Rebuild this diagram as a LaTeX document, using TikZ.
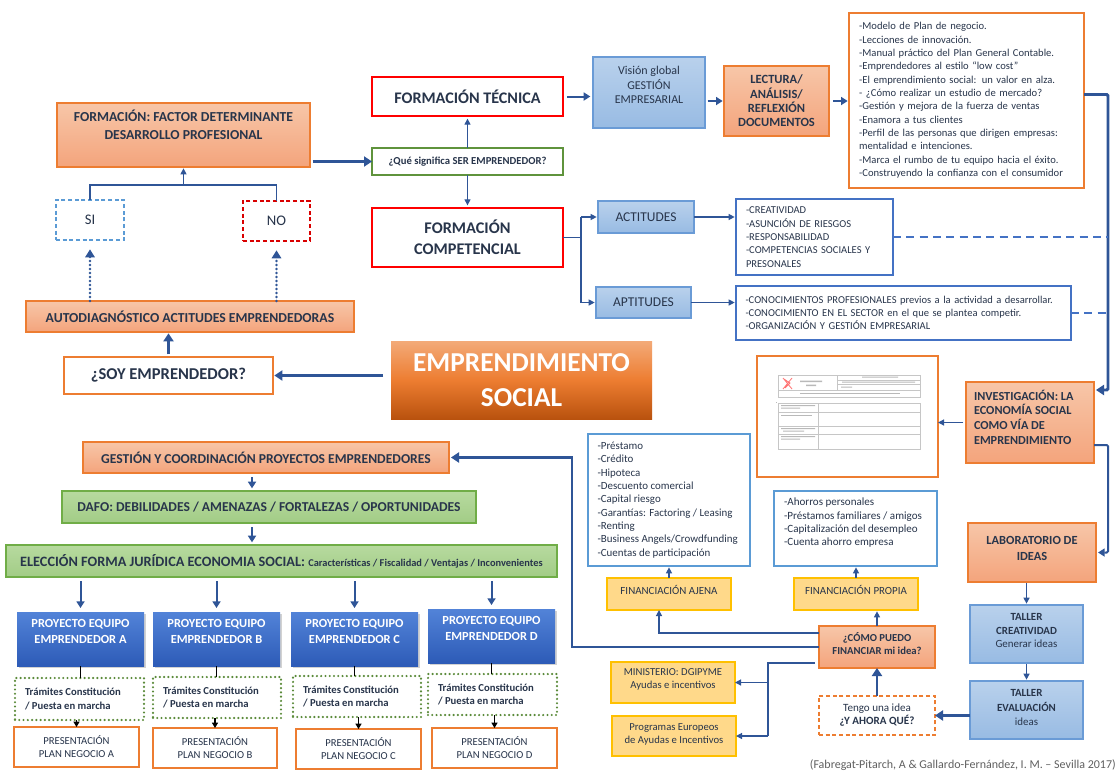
\documentclass[tikz,border=0pt]{standalone}
\usepackage{fontspec}
\setmainfont{Carlito}
\usetikzlibrary{arrows.meta,calc,shadows}
\definecolor{txt}{HTML}{28354B}
\definecolor{arr}{HTML}{2F5597}
\definecolor{orgB}{HTML}{ED7D31}
\definecolor{salT}{HTML}{F7C6A8}
\definecolor{salB}{HTML}{F4A47C}
\definecolor{emT}{HTML}{F3AA78}
\definecolor{emB}{HTML}{B9520E}
\definecolor{bluB}{HTML}{6A9BD6}
\definecolor{bluT}{HTML}{B9D1EC}
\definecolor{bluM}{HTML}{98BBE3}
\definecolor{grnT}{HTML}{B7DA9F}
\definecolor{grnF}{HTML}{A2CC86}
\definecolor{grnB}{HTML}{70AD47}
\definecolor{yelF}{HTML}{FFD98A}
\definecolor{yelB}{HTML}{FFC000}
\definecolor{prjT}{HTML}{5283D8}
\definecolor{prjB}{HTML}{2D5BB7}
\definecolor{lineB}{HTML}{4472C4}
\definecolor{lineLB}{HTML}{5B9BD5}
\newcommand\bx[7]{\node[#1, minimum width={(#4-#2)*0.75pt}, minimum height={(#5-#3)*0.75pt}] (#6) at ({(#2+#4)/2},{(#3+#5)/2}) {#7};}
\newcommand\tx[5]{\node[#1] (#2) at (#3,#4) {#5};}
\begin{document}
\begin{tikzpicture}[x=0.75pt,y=-0.75pt,
  base/.style={inner sep=0pt, outer sep=0pt, text=txt, align=center},
  sal/.style={base, draw=orgB, line width=0.9pt, top color=salT, bottom color=salB},
  redbox/.style={base, draw=red, line width=2.2pt, fill=white},
  grnq/.style={base, draw=grnB!85!black, line width=1.8pt, fill=white},
  bluebox/.style={base, draw=bluB, line width=0.9pt, top color=bluT, bottom color=bluM},
  whiteO/.style={base, draw=orgB, line width=0.9pt, fill=white},
  whiteB/.style={base, draw=lineB, line width=0.9pt, fill=white},
  whiteLB/.style={base, draw=lineLB, line width=0.9pt, fill=white},
  yel/.style={base, draw=yelB, line width=0.9pt, fill=yelF},
  grn/.style={base, draw=grnB, line width=0.9pt, top color=grnT, bottom color=grnF},
  prj/.style={base, text=white, top color=prjT, bottom color=prjB, drop shadow={shadow xshift=1.5pt, shadow yshift=-1.5pt, opacity=0.35}},
  dotg/.style={base, draw=grnB!80!black, line width=1.8pt, dash pattern=on 0pt off 3.2pt, line cap=round},
  dashBx/.style={base, draw=lineLB, line width=0.8pt, dash pattern=on 3pt off 2pt},
  dashRx/.style={base, draw=red!85!black, line width=0.8pt, dash pattern=on 3pt off 2pt},
  dashOx/.style={base, draw=orgB, line width=0.8pt, dash pattern=on 3pt off 2pt},
  arT/.style={draw=arr, line width=2.2pt, -{Triangle[length=6pt,width=7.5pt]}},
  arM/.style={draw=arr, line width=1.5pt, -{Triangle[length=5pt,width=6pt]}},
  arS/.style={draw=arr, line width=0.9pt, -{Triangle[length=4.5pt,width=4.5pt]}},
  arK/.style={draw=black, line width=0.8pt, -{Triangle[length=4pt,width=4.5pt]}},
  ln/.style={draw=arr, line width=0.9pt},
  dotarr/.style={draw=arr, line width=2pt, dash pattern=on 0pt off 3pt, line cap=round, -{Triangle[length=6pt,width=7pt]}},
  dashln/.style={draw=lineB, line width=1.6pt, dash pattern=on 6pt off 4pt}
]
\useasboundingbox (0,0) rectangle (1119,771);
\fill[white] (0,0) rectangle (1119,771);

% ---------- left top ----------
\bx{sal}{57}{103}{310}{167}{factor}{}
\tx{base,font=\bfseries\fontsize{10.3}{13.5}\selectfont}{factorT}{183.5}{125}{FORMACIÓN: FACTOR DETERMINANTE\\DESARROLLO PROFESIONAL}
\bx{dashBx,font=\fontsize{11}{13}\selectfont}{56}{200}{124}{240}{si}{SI}
\bx{dashRx,font=\fontsize{11}{13}\selectfont}{243}{201}{310}{241}{no}{NO}
\bx{sal,font=\bfseries\fontsize{10.3}{12}\selectfont}{26}{301}{354}{332}{auto}{AUTODIAGNÓSTICO ACTITUDES EMPRENDEDORAS}
\bx{whiteO,font=\bfseries\fontsize{12.4}{14}\selectfont}{64}{357}{273}{394}{soy}{¿SOY EMPRENDEDOR?}
\bx{base,text=white,top color=emT,bottom color=emB,middle color=orgB,font=\bfseries\fontsize{20.5}{26.5}\selectfont}{391}{341}{652}{419}{empr}{EMPRENDIMIENTO\\SOCIAL}

% ---------- formation column ----------
\bx{redbox,font=\bfseries\fontsize{12.1}{14}\selectfont}{372}{77}{563}{116}{tec}{FORMACIÓN TÉCNICA}
\bx{grnq,font=\bfseries\fontsize{8}{9}\selectfont}{372}{148}{563}{175}{que}{¿Qué significa SER EMPRENDEDOR?}
\bx{redbox,font=\bfseries\fontsize{12.2}{15.8}\selectfont}{372}{208}{563}{267}{comp}{FORMACIÓN\\COMPETENCIAL}

% ---------- top right ----------
\bx{bluebox}{593}{57}{705}{128}{vis}{}
\tx{base,font=\fontsize{9}{10.9}\selectfont}{visT}{649}{85}{Visión global\\GESTIÓN\\EMPRESARIAL}
\bx{sal,font=\bfseries\fontsize{9.4}{10.75}\selectfont}{724}{66}{829}{136}{lec}{LECTURA/\\ANÁLISIS/\\REFLEXIÓN\\DOCUMENTOS}
\bx{whiteO,align=left,text width=161pt,font=\fontsize{7.95}{10}\selectfont}{849}{13}{1084}{188}{lst}{-Modelo de Plan de negocio.\\-Lecciones de innovación.\\-Manual práctico del Plan General Contable.\\-Emprendedores al estilo “low cost”\\-El emprendimiento social: un valor en alza.\\- ¿Cómo realizar un estudio de mercado?\\-Gestión y mejora de la fuerza de ventas\\-Enamora a tus clientes\\-Perfil de las personas que dirigen empresas:\\mentalidad e intenciones.\\-Marca el rumbo de tu equipo hacia el éxito.\\-Construyendo la confianza con el consumidor}

\bx{bluebox,font=\fontsize{10.1}{11}\selectfont}{598}{201}{694}{233}{act}{ACTITUDES}
\bx{bluebox,font=\fontsize{10.1}{11}\selectfont}{596}{287}{691}{318}{apt}{APTITUDES}
\bx{whiteB,align=left,text width=102.75pt,font=\fontsize{7.9}{10}\selectfont}{736}{199}{893}{275}{actl}{-CREATIVIDAD\\-ASUNCIÓN DE RIESGOS\\-RESPONSABILIDAD\\-COMPETENCIAS SOCIALES Y\\PRESONALES}
\bx{whiteB,align=left,text width=237pt,font=\fontsize{7.9}{10}\selectfont}{736}{286}{1071}{340}{aptl}{-CONOCIMIENTOS PROFESIONALES previos a la actividad a desarrollar.\\-CONOCIMIENTO EN EL SECTOR en el que se plantea competir.\\-ORGANIZACIÓN Y GESTIÓN EMPRESARIAL}

% ---------- document thumbnail ----------
\bx{whiteO}{757}{356}{938}{477}{doc}{}
\begin{scope}[draw=gray!45, line width=0.35pt]
\draw (778,375) rectangle (920,397);
\draw (837,375) -- (837,390) (778,390) -- (920,390) (837,380) -- (920,380) (837,384) -- (920,384);
\draw (778,403) rectangle (920,449);
\draw (818,403) -- (818,449) (778,412) -- (920,412) (778,426) -- (920,426) (778,434) -- (920,434);
\end{scope}
\draw[red!55, line width=0.6pt] (783,378) -- (792,389) (792,378) -- (783,389) (784,379) -- (790,383) -- (785,388);
\begin{scope}[fill=gray!55]
\fill (800,380.5) rectangle (822,382) (806,384.5) rectangle (816,386);
\fill (862,376.5) rectangle (898,377.5) (842,381.5) rectangle (915,382.5) (841,386.5) rectangle (852,387.5);
\fill (800,393) rectangle (900,394);
\fill (781,405) rectangle (815,406) (781,407.5) rectangle (800,408.5);
\fill (781,415) rectangle (812,416);
\fill (781,428) rectangle (815,429) (783,430.5) rectangle (804,431.5);
\fill (781,436) rectangle (815,437) (781,438.5) rectangle (800,439.5);
\fill (775.5,401.5) rectangle (776.5,402.5);
\end{scope}

% ---------- right column ----------
\bx{sal}{966}{382}{1094}{463}{inv}{}
\node[base,anchor=west,align=left,font=\bfseries\fontsize{9.2}{11}\selectfont] (invT) at (974,417) {INVESTIGACIÓN: LA\\ECONOMÍA SOCIAL\\COMO VÍA DE\\EMPRENDIMIENTO};
\bx{sal}{968}{523}{1096}{582}{lab}{}
\tx{base,font=\bfseries\fontsize{9.3}{11.4}\selectfont}{labT}{1032}{548.5}{LABORATORIO DE\\IDEAS}
\bx{bluebox}{970}{605}{1083}{663}{cre}{}
\tx{base,font=\fontsize{8.2}{10.2}\selectfont}{creT}{1026.5}{630.5}{\textbf{TALLER}\\\textbf{CREATIVIDAD}\\Generar ideas}
\bx{bluebox}{970}{681}{1083}{739}{eva}{}
\tx{base,font=\fontsize{8.2}{10.8}\selectfont}{evaT}{1026.5}{707.5}{\textbf{TALLER}\\\textbf{EVALUACIÓN}\\ideas}
\bx{dashOx,font=\fontsize{8.3}{9.8}\selectfont}{819}{696}{935}{735}{ten}{Tengo una idea\\\textbf{¿Y AHORA QUÉ?}}
\bx{sal}{819}{626}{935}{668}{como}{}
\tx{base,font=\bfseries\fontsize{8}{10}\selectfont}{comoT}{877}{643.5}{¿CÓMO PUEDO\\FINANCIAR mi idea?}

% ---------- financing ----------
\bx{yel}{794}{578}{918}{610}{pro}{}
\tx{base,font=\fontsize{8.2}{9}\selectfont}{proT}{856}{590}{FINANCIACIÓN PROPIA}
\bx{yel}{607}{578}{731}{610}{aje}{}
\tx{base,font=\fontsize{8.2}{9}\selectfont}{ajeT}{669}{590}{FINANCIACIÓN AJENA}
\bx{whiteLB}{588}{434}{750}{566}{ajl}{}
\node[base,anchor=west,align=left,font=\fontsize{8.2}{10}\selectfont] (ajlT) at (597.5,500) {-Préstamo\\-Crédito\\-Hipoteca\\-Descuento comercial\\-Capital riesgo\\-Garantías: Factoring / Leasing\\-Renting\\-Business Angels/Crowdfunding\\-Cuentas de participación};
\bx{whiteLB}{774}{491}{937}{566}{prl}{}
\node[base,anchor=west,align=left,font=\fontsize{8.3}{10}\selectfont] (prlT) at (784,523) {-Ahorros personales\\-Préstamos familiares / amigos\\-Capitalización del desempleo\\-Cuenta ahorro empresa};
\bx{yel}{611}{662}{735}{703}{min}{}
\tx{base,font=\fontsize{8}{9.8}\selectfont}{minT}{673}{679.5}{MINISTERIO: DGIPYME\\Ayudas e incentivos}
\bx{yel}{612}{716}{736}{756}{prg}{}
\tx{base,font=\fontsize{8}{9.8}\selectfont}{prgT}{674}{734}{Programas Europeos\\de Ayudas e Incentivos}

% ---------- bottom left ----------
\bx{sal,font=\bfseries\fontsize{10.2}{12}\selectfont}{83}{442}{449}{473}{ges}{GESTIÓN Y COORDINACIÓN PROYECTOS EMPRENDEDORES}
\bx{grn,font=\bfseries\fontsize{10.2}{12}\selectfont}{62}{491}{476}{523}{daf}{DAFO: DEBILIDADES / AMENAZAS / FORTALEZAS / OPORTUNIDADES}
\bx{grn,font=\bfseries\fontsize{10.7}{12}\selectfont}{6}{545}{557}{577}{ele}{ELECCIÓN FORMA JURÍDICA ECONOMIA SOCIAL: {\fontsize{7.8}{8}\selectfont Características / Fiscalidad / Ventajas / Inconvenientes}}

\bx{prj}{17}{612}{144}{666}{pA}{}
\bx{prj}{153}{612}{280}{666}{pB}{}
\bx{prj}{291}{612}{418}{666}{pC}{}
\bx{prj}{428}{609}{555}{663}{pD}{}
\tx{base,text=white,font=\bfseries\fontsize{9.3}{12}\selectfont}{pAT}{80.5}{631}{PROYECTO EQUIPO\\EMPRENDEDOR A}
\tx{base,text=white,font=\bfseries\fontsize{9.3}{12}\selectfont}{pBT}{216.5}{631}{PROYECTO EQUIPO\\EMPRENDEDOR B}
\tx{base,text=white,font=\bfseries\fontsize{9.3}{12}\selectfont}{pCT}{354.5}{631}{PROYECTO EQUIPO\\EMPRENDEDOR C}
\tx{base,text=white,font=\bfseries\fontsize{9.3}{12}\selectfont}{pDT}{491.5}{628}{PROYECTO EQUIPO\\EMPRENDEDOR D}

\bx{dotg}{15}{678}{144}{720}{tA}{}
\bx{dotg}{153}{677}{281}{718}{tB}{}
\bx{dotg}{293}{676}{421}{717}{tC}{}
\bx{dotg}{428}{674}{557}{715}{tD}{}
\node[base,anchor=west,align=left,font=\bfseries\fontsize{8}{9.8}\selectfont] (tAT) at (25,699) {Trámites Constitución\\/ Puesta en marcha};
\node[base,anchor=west,align=left,font=\bfseries\fontsize{8}{9.8}\selectfont] (tBT) at (163,697.5) {Trámites Constitución\\/ Puesta en marcha};
\node[base,anchor=west,align=left,font=\bfseries\fontsize{8}{9.8}\selectfont] (tCT) at (303,696.5) {Trámites Constitución\\/ Puesta en marcha};
\node[base,anchor=west,align=left,font=\bfseries\fontsize{8}{9.8}\selectfont] (tDT) at (438,694.5) {Trámites Constitución\\/ Puesta en marcha};

\bx{whiteO,font=\fontsize{8}{9.8}\selectfont}{14}{727}{139}{767}{rA}{PRESENTACIÓN\\PLAN NEGOCIO A}
\bx{whiteO,font=\fontsize{8}{9.8}\selectfont}{153}{728}{277}{768}{rB}{PRESENTACIÓN\\PLAN NEGOCIO B}
\bx{whiteO,font=\fontsize{8}{9.8}\selectfont}{296}{729}{421}{769}{rC}{PRESENTACIÓN\\PLAN NEGOCIO C}
\bx{whiteO,font=\fontsize{8}{9.8}\selectfont}{432}{728}{557}{768}{rD}{PRESENTACIÓN\\PLAN NEGOCIO D}

\node[anchor=east,inner sep=0pt,text=gray!75!black,font=\fontsize{9}{10}\selectfont] (cred) at (1116,765) {(Fabregat-Pitarch, A \& Gallardo-Fernández, I. M. – Sevilla 2017)};

% ---------- connectors ----------
\draw[arT, shorten <=2pt] (factor.east |- que.west) -- (que.west);
\draw[arS, shorten >=2pt] (tec.south |- que.north) -- (tec.south);
\draw[arS, shorten >=2pt] (comp.north |- que.south) -- (comp.north);
\draw[arM, shorten <=3pt, shorten >=2pt] (tec.east) -- (tec.east -| vis.west);
\draw[arM, shorten <=2pt, shorten >=1pt] (vis.east |- lec.west) -- (lec.west);
\draw[arM, shorten <=3pt, shorten >=1pt] (lec.east) -- (lec.east -| lst.west);

\coordinate (vx) at (1108,0);
\coordinate (inv1) at ($(inv.north east)+(2,8)$);
\coordinate (ls1) at ($(lst.east)+(0,-6)$);
\draw[arT, rounded corners=1pt] (ls1) -- (ls1 -| vx) -- (vx |- inv1) -- (inv1);
\draw[dashln] (actl.east) -- (actl.east -| vx);
\draw[dashln] (aptl.east) -- (aptl.east -| vx);
\draw[arS, shorten <=2pt] (inv.west) -- (inv.west -| doc.east);
\coordinate (inv2) at ($(inv.south east)+(0,-18)$);
\draw[arM, rounded corners=1pt] (inv2) -- (inv2 -| vx) -- (vx |- lab.east) -- ($(lab.east)+(2,0)$);
\draw[arS, shorten <=1pt, shorten >=1pt] (cre.north |- lab.south) -- (cre.north);
\draw[arS, shorten <=1pt, shorten >=1pt] (cre.south) -- (eva.north);
\draw[arT] (eva.west |- ten.east) -- (ten.east);
\draw[arT] (ten.north) -- (ten.north |- como.south);
\draw[arS, shorten >=1pt] (como.north) -- (como.north |- pro.south);
\draw[arS, shorten >=1pt] (pro.north) -- (pro.north |- prl.south);
\coordinate (c1) at ($(como.north west)+(0,7)$);
\coordinate (ax) at ($(aje.south)+(-10,0)$);
\draw[arS] (c1) -| (ax);
\draw[arS, shorten >=1pt] (aje.north) -- (aje.north |- ajl.south);
\coordinate (vx2) at (572,0);
\draw[arT] (como.west) -| (vx2 |- ges.east) -- ($(ges.east)+(2,0)$);
\coordinate (c2) at ($(como.south west)+(-4,-5)$);
\coordinate (vx3) at (768,0);
\draw[ln] (c2) -- (c2 -| vx3) -- (vx3 |- prg.east);
\draw[arS] (vx3 |- prg.east) -- (prg.east);
\draw[arS] (vx3 |- min.east) -- (min.east);

\coordinate (gx) at (252,0);
\draw[arM, shorten <=3pt, shorten >=2pt] (gx |- ges.south) -- (gx |- daf.north);
\draw[arM, shorten <=3pt, shorten >=2pt] (gx |- daf.south) -- (gx |- ele.north);
\foreach \p in {A,B,C,D}{
  \draw[arM, shorten <=3pt, shorten >=3pt] (ele.south -| p\p.north) -- (p\p.north);
  \draw[draw=black, line width=0.8pt] (p\p.south) -- (p\p.south |- t\p.north);
  \draw[arK] (r\p.north |- t\p.south) -- (r\p.north);
}

\draw[arT, shorten <=6pt, shorten >=1pt] (empr.west |- soy.east) -- (soy.east);
\draw[arT, shorten <=2pt, shorten >=1pt] (soy.north) -- (soy.north |- auto.south);
\draw[dotarr, shorten >=7pt] (si.south |- auto.north) -- (si.south);
\draw[dotarr, shorten >=7pt] (no.south |- auto.north) -- (no.south);
\coordinate (mid) at (180,185);
\draw[ln] (si.north) |- (mid) -| (no.north);
\draw[arS, shorten >=1pt] (factor.south |- mid) -- (factor.south);

\coordinate (bkx) at (581,0);
\draw[ln] (comp.east) -- (comp.east -| bkx);
\draw[ln] (act.west -| bkx) -- (apt.west -| bkx);
\draw[arS, shorten >=1pt] (act.west -| bkx) -- (act.west);
\draw[arS, shorten >=1pt] (apt.west -| bkx) -- (apt.west);
\draw[arS, shorten >=1pt] (act.east) -- (act.east -| actl.west);
\draw[arS, shorten >=1pt] (apt.east) -- (apt.east -| aptl.west);
\end{tikzpicture}
\end{document}
